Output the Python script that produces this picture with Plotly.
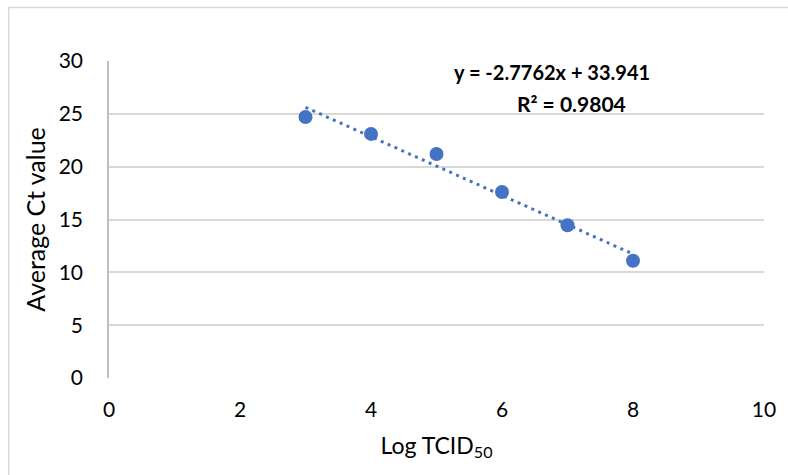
import plotly.graph_objects as go

log_tcid50 = [3, 4, 5, 6, 7, 8]
avg_ct = [24.7, 23.1, 21.2, 17.6, 14.45, 11.1]
slope = -2.7762
intercept = 33.941
r_squared = 0.9804
x_ticks = [0, 2, 4, 6, 8, 10]
y_ticks = [0, 5, 10, 15, 20, 25, 30]

blue = "#4472C4"
font_family = "Lato, 'Open Sans', sans-serif"

trend_x = [min(log_tcid50), max(log_tcid50)]
trend_y = [slope * v + intercept for v in trend_x]

fig = go.Figure()
fig.add_trace(go.Scatter(
    x=trend_x, y=trend_y, mode="lines",
    line=dict(color=blue, width=3, dash="3px,4.5px"),
    hoverinfo="skip", showlegend=False,
))
fig.add_trace(go.Scatter(
    x=log_tcid50, y=avg_ct, mode="markers",
    marker=dict(color=blue, size=14),
    showlegend=False,
))

fig.add_annotation(
    xref="paper", yref="paper", x=(553 - 109) / 657, y=1 - (72 - 61) / 317,
    text=f"<b>y = {slope}x + {intercept}</b>", showarrow=False,
    font=dict(family=font_family, size=20, color="black"),
    xanchor="center", yanchor="middle",
)
fig.add_annotation(
    xref="paper", yref="paper", x=(573 - 109) / 657, y=1 - (103 - 61) / 317,
    text=f"<b>R² = {r_squared}</b>", showarrow=False,
    font=dict(family=font_family, size=21, color="black"),
    xanchor="center", yanchor="middle",
)

fig.add_shape(
    type="rect", xref="paper", yref="paper",
    x0=(8.5 - 109) / 657, x1=1.2, y0=-0.5, y1=1 + (61 - 7.5) / 317,
    line=dict(color="#D9D9D9", width=1.5), layer="below",
)

fig.update_xaxes(
    range=[0, 10], tickvals=x_ticks, showgrid=False, zeroline=False,
    showline=False, ticks="", tickfont=dict(family=font_family, size=21, color="black"),
    ticklabelstandoff=17,
    title=dict(text="Log TCID<sub>50</sub>", font=dict(family=font_family, size=23, color="black"), standoff=17),
)
fig.update_yaxes(
    range=[0, 30], tickvals=y_ticks, showgrid=True, gridcolor="#D9D9D9", gridwidth=1.5,
    zeroline=False, showline=True, linecolor="#BFBFBF", linewidth=1.5, ticks="",
    tickfont=dict(family=font_family, size=21, color="black"), ticklabelstandoff=20,
    title=dict(text="Average Ct value", font=dict(family=font_family, size=25, color="black"), standoff=6),
)

fig.update_layout(
    width=788, height=475,
    margin=dict(l=109, r=22, t=61, b=97),
    paper_bgcolor="white", plot_bgcolor="white",
)

fig.write_html("out.html")
